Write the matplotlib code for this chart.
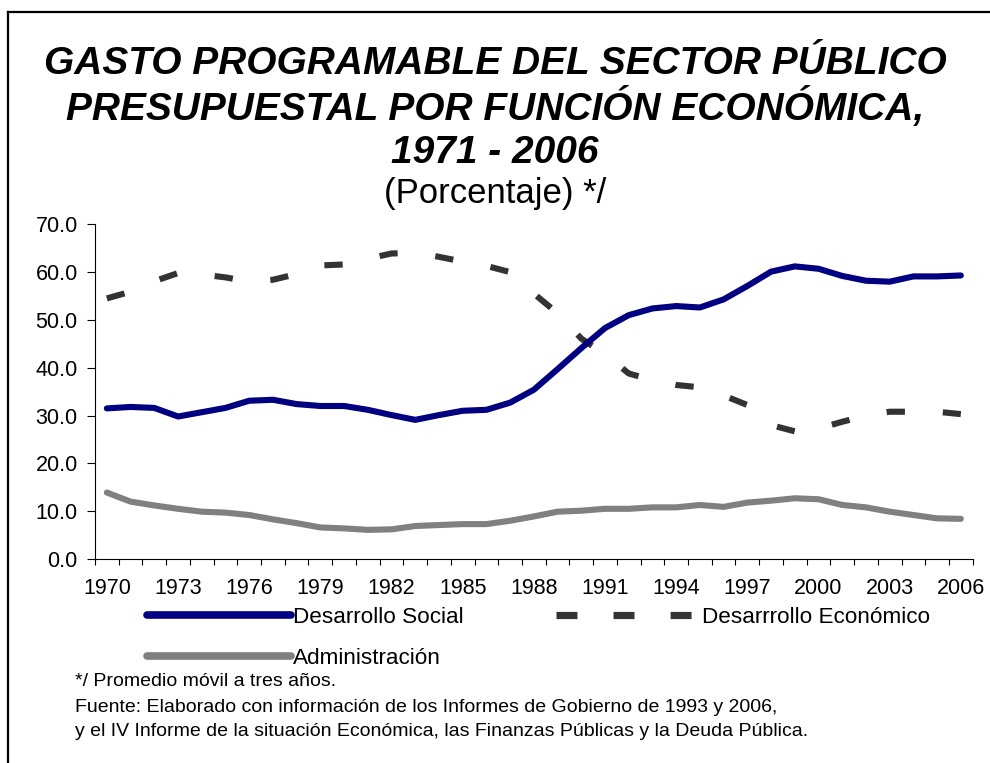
import matplotlib
matplotlib.use("Agg")
import matplotlib.pyplot as plt
from matplotlib.lines import Line2D
from matplotlib.ticker import FixedLocator, FuncFormatter

years = list(range(1970, 2007))
social = [31.5, 31.8, 31.6, 29.8, 30.7, 31.6, 33.1, 33.3, 32.4, 32.0, 32.0, 31.2, 30.1,
          29.1, 30.1, 31.0, 31.2, 32.7, 35.4, 39.7, 44.1, 48.3, 51.0, 52.4, 52.9,
          52.6, 54.3, 57.1, 60.1, 61.2, 60.7, 59.2, 58.2, 58.0, 59.1, 59.1, 59.3]
economico = [54.5, 55.9, 58.1, 59.8, 59.5, 58.9, 58.0, 58.4, 59.6, 61.4, 61.6, 62.8, 63.9,
             64.0, 63.2, 62.2, 61.3, 60.0, 55.5, 51.4, 46.1, 42.8, 38.8, 37.4, 36.4,
             35.9, 34.2, 32.2, 28.0, 26.7, 27.3, 28.7, 30.0, 30.8, 30.8, 30.8, 30.3]
administracion = [13.9, 12.0, 11.2, 10.5, 9.9, 9.7, 9.2, 8.3, 7.5, 6.6, 6.4, 6.1, 6.2,
                  6.9, 7.1, 7.3, 7.3, 8.0, 8.9, 9.9, 10.1, 10.5, 10.5, 10.8, 10.8,
                  11.3, 10.9, 11.8, 12.2, 12.7, 12.5, 11.3, 10.8, 9.9, 9.2, 8.5, 8.4]
series_names = ["Desarrollo Social", "Desarrrollo Económico", "Administración"]
yticks = [0, 10, 20, 30, 40, 50, 60, 70]

FONT = "Liberation Sans"
plt.rcParams["font.family"] = [FONT, "DejaVu Sans"]

fig = plt.figure(figsize=(9.9, 7.63), dpi=100)
W, H = 990, 763
ax = fig.add_axes([95 / W, 1 - 559 / H, (972.7 - 95) / W, (559 - 224.3) / H])

x = list(range(len(years)))
c_soc, c_eco, c_adm = "#000080", "#333333", "#808080"
ax.plot(x, administracion, color=c_adm, lw=4.4, solid_capstyle="round", solid_joinstyle="round", zorder=3)
ax.plot(x, economico, color=c_eco, lw=4.4, dashes=(3.0, 6.2), dash_capstyle="butt", zorder=4)
ax.plot(x, social, color=c_soc, lw=4.4, solid_capstyle="round", solid_joinstyle="round", zorder=5)

ax.set_xlim(-0.5, len(years) - 0.5)
ax.set_ylim(0, 70)
ax.set_yticks(yticks)
ax.yaxis.set_major_formatter(FuncFormatter(lambda v, p: f"{v:.1f}"))
ax.tick_params(axis="y", direction="out", length=5.5, width=0.8, pad=7, labelsize=15.5)

# tick marks at category boundaries, labels every 3 years at category centers
ax.xaxis.set_major_locator(FixedLocator([i - 0.5 for i in range(len(years) + 1)]))
ax.xaxis.set_major_formatter(FuncFormatter(lambda v, p: ""))
ax.xaxis.set_minor_locator(FixedLocator(x[::3]))
ax.xaxis.set_minor_formatter(FuncFormatter(lambda v, p: str(years[int(round(v))])))
ax.tick_params(axis="x", which="major", direction="out", length=4.3, width=0.8)
ax.tick_params(axis="x", which="minor", length=0, pad=14, labelsize=15.5)

for s in ["top", "right"]:
    ax.spines[s].set_visible(False)
for s in ["left", "bottom"]:
    ax.spines[s].set_color("#000000")
    ax.spines[s].set_linewidth(0.8)

# Title
fig.text(0.5, 1 - 64 / H, "GASTO PROGRAMABLE DEL SECTOR PÚBLICO", ha="center", va="center",
         fontsize=28, fontweight="bold", fontstyle="italic")
fig.text(0.5, 1 - 108 / H, "PRESUPUESTAL POR FUNCIÓN ECONÓMICA,", ha="center", va="center",
         fontsize=28, fontweight="bold", fontstyle="italic")
fig.text(0.5, 1 - 153 / H, "1971 - 2006", ha="center", va="center",
         fontsize=28, fontweight="bold", fontstyle="italic")
fig.text(0.5, 1 - 193 / H, "(Porcentaje) */", ha="center", va="center", fontsize=25)

# Legend
h_soc = Line2D([], [], color=c_soc, lw=5.5, solid_capstyle="round")
h_eco = Line2D([], [], color=c_eco, lw=5.2, dashes=(2.9, 5.0), dash_capstyle="butt")
h_adm = Line2D([], [], color=c_adm, lw=5.5, solid_capstyle="round")
fig.legend([h_soc, h_adm, h_eco], [series_names[0], series_names[2], series_names[1]],
           ncol=2, loc="upper left", bbox_to_anchor=(147 / W, 1 - 607 / H),
           frameon=False, fontsize=16.2, handlelength=6.4, handletextpad=0.1,
           columnspacing=4.1, labelspacing=0.9, borderpad=0, borderaxespad=0)

# Footnotes
notes = ["*/ Promedio móvil a tres años.",
         "Fuente: Elaborado con información de los Informes de Gobierno de 1993 y 2006,",
         "y el IV Informe de la situación Económica, las Finanzas Públicas y la Deuda Pública."]
for t, yy in zip(notes, [682, 707, 732]):
    fig.text(75 / W, 1 - yy / H, t, ha="left", va="center", fontsize=14)

# Frame around chart area
fig.add_artist(Line2D([8 / W, 8 / W], [0, 1 - 12 / H], color="black", lw=1.6, transform=fig.transFigure))
fig.add_artist(Line2D([8 / W, 1], [1 - 12 / H, 1 - 12 / H], color="black", lw=1.6, transform=fig.transFigure))

fig.savefig("out.png", dpi=100)
